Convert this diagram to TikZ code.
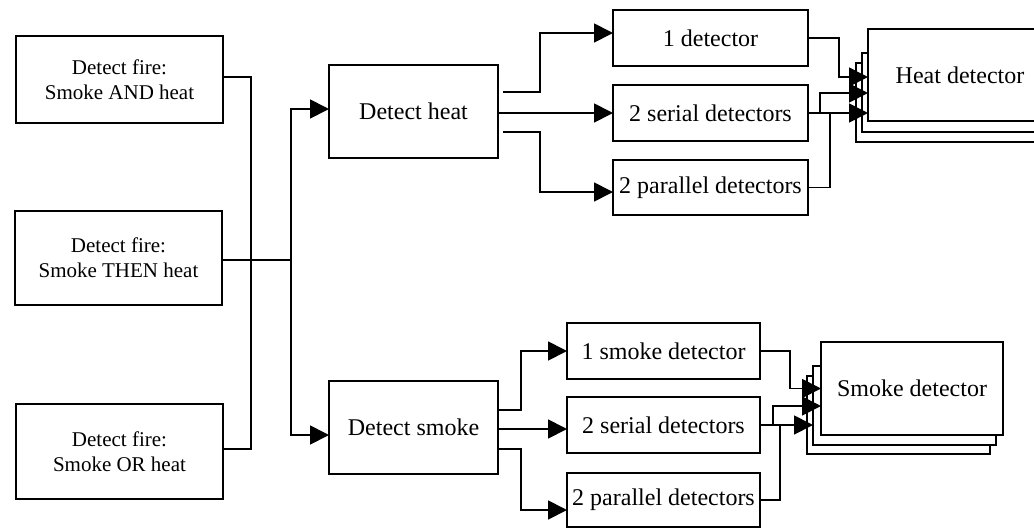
\documentclass[tikz,border=0pt]{standalone}
\usepackage{fontspec}
\setmainfont{Liberation Serif}
\usetikzlibrary{arrows.meta}
\begin{document}
\begin{tikzpicture}[x=1pt, y=-1pt, line width=1.8pt,
  box/.style={draw, fill=white, inner sep=0pt, outer sep=0pt, align=center,
              font=\fontsize{24}{28}\selectfont},
  firebox/.style={box, minimum width=207pt, minimum height=87pt,
              font=\fontsize{21}{25}\selectfont},
  taskbox/.style={box, minimum width=169pt, minimum height=93pt},
  heatunit/.style={box, minimum width=195pt, minimum height=56pt},
  smokeunit/.style={box, minimum width=193pt, minimum height=56pt},
  arr/.style={-{Triangle[length=19pt,width=19pt]}}]

\useasboundingbox (0,0) rectangle (1034,528);

% fire detection variants
\node[firebox] (and) at (119.5,79.5) {Detect fire:\\Smoke AND heat};
\node[firebox, line width=2.6pt, minimum height=94pt] (then) at (118.5,258) {Detect fire:\\Smoke THEN heat};
\node[firebox, minimum height=95pt] (or) at (119.5,451.5) {Detect fire:\\Smoke OR heat};

% sub-tasks
\node[taskbox] (heat) at (413.5,111.5) {Detect heat};
\node[taskbox] (smoke) at (413.5,427.5) {Detect smoke};

% heat detector configurations
\node[heatunit] (d1) at (710.5,38) {1 detector};
\node[heatunit] (d2) at (710.5,113) {2 serial detectors};
\node[heatunit, minimum height=55pt] (d3) at (710.5,187.5) {2 parallel detectors};

% smoke detector configurations
\node[smokeunit] (s1) at (663.5,351) {1 smoke detector};
\node[smokeunit] (s2) at (663.5,425) {2 serial detectors};
\node[smokeunit, minimum height=54pt] (s3) at (663.5,500) {2 parallel detectors};

% stacked detector devices
\begin{scope}
  \clip (0,0) rectangle (1034,528);
  \node[box, minimum width=184pt, minimum height=79pt] (hd3) at (948,102.5) {};
  \node[box, minimum width=184pt, minimum height=79pt] (hd2) at (954,92.5) {};
  \node[box, minimum width=184pt, minimum height=92pt] (hd1) at (960,75) {Heat detector};
  \node[box, minimum width=183pt, minimum height=78pt] (sd3) at (898.5,415) {};
  \node[box, minimum width=183pt, minimum height=79pt] (sd2) at (904.5,405.5) {};
  \node[box, minimum width=182pt, minimum height=93pt] (sd1) at (912,388.5) {Smoke detector};
\end{scope}

% left bracket joining AND / OR
\draw ([yshift=2.5pt]and.east) -- ++(28,0) |- ([yshift=2.5pt]or.east);

% THEN splits into heat and smoke detection
\coordinate (fork) at (291,260);
\draw (then.east |- fork) -- (fork);
\draw[arr] (fork) |- ([yshift=2.5pt]heat.west);
\draw[arr] (fork) |- ([yshift=-7.5pt]smoke.west);

% heat detection options
\draw[arr] ([xshift=5pt,yshift=19.5pt]heat.east) -- ++(37,0) |- ([yshift=5pt]d1.west);
\draw[arr] (heat.east |- d2.west) -- (d2.west);
\draw[arr] ([xshift=5pt,yshift=-20.5pt]heat.east) -- ++(37,0) |- ([yshift=-4.5pt]d3.west);

% smoke detection options
\draw[arr] ([yshift=17.5pt]smoke.east) -- ++(23,0) |- (s1.west);
\draw[arr] ([yshift=-1.5pt]smoke.east) -- ([yshift=-4pt]s2.west);
\draw[arr] ([yshift=-21.5pt]smoke.east) -- ++(23,0) |- ([yshift=-10pt]s3.west);

% heat configurations to heat detectors
\draw[arr] (d1.east) -- ++(31,0) |- ([yshift=-2pt]hd1.west);
\draw[arr] (d2.east) ++(12,0) |- ([yshift=-18pt]hd1.west);
\draw[arr] (d2.east) -- (d2.east -| hd1.west);
\draw (d3.east) -| ([xshift=22pt]d2.east);

% smoke configurations to smoke detectors
\draw[arr] (s1.east) -- ++(30,0) |- (sd1.west);
\draw[arr] (s2.east) ++(13,0) |- ([yshift=-17.5pt]sd1.west);
\draw[arr] (s2.east) -- (s2.east -| sd2.west);
\draw (s3.east) -| ([xshift=20pt]s2.east);
\end{tikzpicture}
\end{document}
